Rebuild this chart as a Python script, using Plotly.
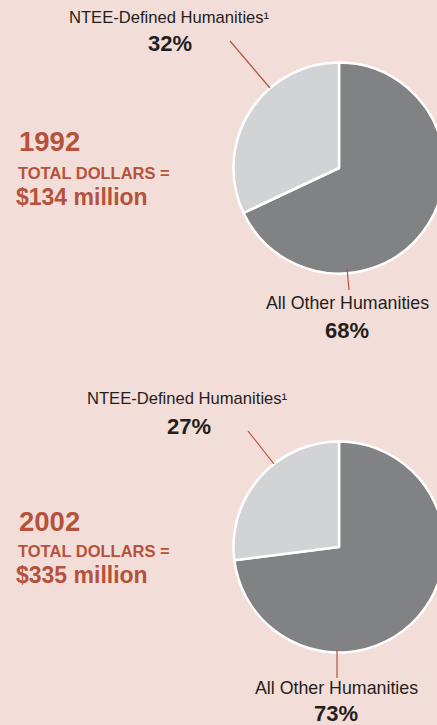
import plotly.graph_objects as go

# data (clockwise from 12 o'clock)
years = ["1992", "2002"]
totals = ["$134 million", "$335 million"]
slice_labels = ["All Other Humanities", "NTEE-Defined Humanities¹"]
share_1992 = [68, 32]
share_2002 = [73, 27]

W, H = 446, 725
BG = "#f3ddd9"
RED = "#b5523b"
INK = "#231f20"
FONT = "Liberation Sans"


def px(x):
    return x / W


def py(y):
    return 1 - y / H


fig = go.Figure()

# one block per year: pie centre (x, y) in pixels, radius, label spots
blocks = [
    dict(year=years[0], total=totals[0], share=share_1992, cx=339, cy=168, r=105.5,
         top_lbl=(169, 18), top_pct=(170, 44), top_line=((230, 41), (270, 88)),
         bot_lbl=(347, 303), bot_pct=(347, 330), bot_line=((347, 268), (349, 290)),
         yr_y=141, td_y=173, tot_y=197),
    dict(year=years[1], total=totals[1], share=share_2002, cx=339, cy=547, r=105.5,
         top_lbl=(187, 398), top_pct=(189, 426), top_line=((248, 431), (274, 464)),
         bot_lbl=(336, 688), bot_pct=(336, 713), bot_line=((337, 650), (337, 678)),
         yr_y=521, td_y=551, tot_y=575),
]

annotations = []
shapes = []
for b in blocks:
    fig.add_trace(go.Pie(
        labels=slice_labels, values=b["share"], sort=False, direction="clockwise",
        rotation=0, textinfo="none", hoverinfo="label+percent",
        marker=dict(colors=["#808284", "#d1d3d4"], line=dict(color="white", width=2.5)),
        domain=dict(x=[px(b["cx"] - b["r"]), px(b["cx"] + b["r"])],
                    y=[py(b["cy"] + b["r"]), py(b["cy"] - b["r"])]),
        showlegend=False,
    ))
    for (x, y), txt, size, bold in [
        (b["top_lbl"], slice_labels[1], 16.6, False),
        (b["top_pct"], f"{b['share'][1]}%", 22, True),
        (b["bot_lbl"], slice_labels[0], 17.8, False),
        (b["bot_pct"], f"{b['share'][0]}%", 22, True),
    ]:
        annotations.append(dict(
            x=px(x), y=py(y), xref="paper", yref="paper", showarrow=False,
            text=f"<b>{txt}</b>" if bold else txt, xanchor="center", yanchor="middle",
            font=dict(family=FONT, size=size, color=INK)))
    for (x, y), txt, size in [
        ((17, b["yr_y"]), b["year"], 27.5),
        ((16, b["td_y"]), "TOTAL DOLLARS =", 16.5),
        ((14, b["tot_y"]), b["total"], 23),
    ]:
        annotations.append(dict(
            x=px(x), y=py(y), xref="paper", yref="paper", showarrow=False,
            text=f"<b>{txt}</b>", xanchor="left", yanchor="middle",
            font=dict(family=FONT, size=size, color=RED)))
    for (x0, y0), (x1, y1) in [b["top_line"], b["bot_line"]]:
        shapes.append(dict(type="line", xref="paper", yref="paper",
                           x0=px(x0), y0=py(y0), x1=px(x1), y1=py(y1),
                           line=dict(color=RED, width=1.2)))

fig.update_layout(
    width=W, height=H, autosize=False,
    margin=dict(l=0, r=0, t=0, b=0),
    paper_bgcolor=BG, plot_bgcolor=BG,
    annotations=annotations, shapes=shapes,
)

fig.write_html("out.html", config={"displayModeBar": False},
               post_script="document.body.style.margin='0';document.body.style.overflow='hidden';")
